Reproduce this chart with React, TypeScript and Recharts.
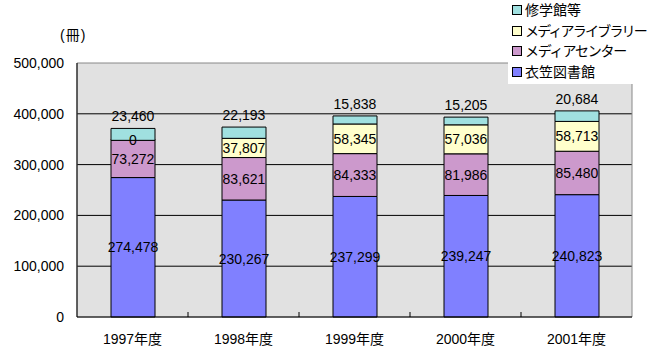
import { Bar, BarChart, CartesianGrid, LabelList, ReferenceArea, XAxis, YAxis } from "recharts";

const years = ["1997年度", "1998年度", "1999年度", "2000年度", "2001年度"];
const kinugasa = [274478, 230267, 237299, 239247, 240823];
const mediaCenter = [73272, 83621, 84333, 81986, 85480];
const mediaLibrary = [0, 37807, 58345, 57036, 58713];
const shugakukan = [23460, 22193, 15838, 15205, 20684];
const yTicks = [0, 100000, 200000, 300000, 400000, 500000];

const series = [
  { key: "kinugasa", name: "衣笠図書館", color: "#8080ff", spacing: 0 },
  { key: "mediaCenter", name: "メディアセンター", color: "#cc99cc", spacing: -1.2 },
  { key: "mediaLibrary", name: "メディアライブラリー", color: "#ffffcc", spacing: -1.8 },
  { key: "shugakukan", name: "修学館等", color: "#a0e0e0", spacing: 0 },
];

const data = years.map((y, i) => ({
  year: y,
  kinugasa: kinugasa[i],
  mediaCenter: mediaCenter[i],
  mediaLibrary: mediaLibrary[i],
  shugakukan: shugakukan[i],
}));

const font = "'Liberation Sans', 'Noto Sans CJK JP', sans-serif";
const W = 647;
const H = 352;
const plotLeft = 77;
const plotRight = 15;
const halfBand = (W - plotLeft - plotRight) / years.length / 2;

const fmt = (v: any) => Number(v).toLocaleString("en-US");

function XTick(props: any) {
  const { x, y, payload, index } = props;
  return (
    <g>
      {index > 0 && <line x1={x - halfBand} x2={x - halfBand} y1={y} y2={y - 5} stroke="#000" />}
      <text
        x={x}
        y={y + 22}
        textAnchor="middle"
        dominantBaseline="central"
        fontSize={14}
        fontFamily={font}
        fill="#000"
      >
        {payload.value}
      </text>
    </g>
  );
}

function SegLabel(props: any) {
  const { x, y, width, height, value, top } = props;
  if (value == null) return null;
  const cx = Number(x) + Number(width) / 2;
  const cy = top ? Number(y) - 12 : Number(y) + Number(height) / 2;
  return (
    <text
      x={cx}
      y={cy}
      textAnchor="middle"
      dominantBaseline="central"
      fontSize={14}
      fontFamily={font}
      fill="#000"
    >
      {fmt(value)}
    </text>
  );
}

function LegendBox() {
  const items = [...series].reverse();
  return (
    <div style={{ position: "absolute", left: 508, top: 0, width: 139, height: 84, background: "#fff" }}>
      {items.map((s, i) => (
        <div
          key={s.key}
          style={{
            position: "absolute",
            left: 4,
            top: 1 + i * 20.7,
            display: "flex",
            alignItems: "center",
            fontFamily: font,
            fontSize: 14,
            lineHeight: "18px",
            whiteSpace: "nowrap",
            color: "#000",
          }}
        >
          <span
            style={{
              display: "inline-block",
              width: 8,
              height: 8,
              background: s.color,
              border: "1px solid #000",
              marginRight: 3,
            }}
          />
          <span style={{ letterSpacing: s.spacing }}>{s.name}</span>
        </div>
      ))}
    </div>
  );
}

export default function App() {
  return (
    <div style={{ position: "absolute", left: 0, top: 0, width: W, height: H, background: "#fff" }}>
      <div
        style={{
          position: "absolute",
          left: 60,
          top: 24,
          fontFamily: font,
          fontSize: 14,
          letterSpacing: 1,
          color: "#000",
        }}
      >
        (冊)
      </div>
      <BarChart
        width={W}
        height={H}
        data={data}
        margin={{ top: 63, right: plotRight, left: 0, bottom: 0 }}
        barSize={44}
      >
        <CartesianGrid
          vertical={false}
          horizontalValues={[100000, 200000, 300000, 400000]}
          stroke="#000"
          fill="#e1e1e1"
          fillOpacity={1}
        />
        <ReferenceArea y1={0} y2={500000} fill="none" stroke="#888" strokeWidth={1} />
        <XAxis
          dataKey="year"
          height={35}
          axisLine={{ stroke: "#000" }}
          tickLine={false}
          tickSize={0}
          tickMargin={0}
          tick={<XTick />}
          interval={0}
        />
        <YAxis
          width={plotLeft}
          domain={[0, 500000]}
          ticks={yTicks}
          tickFormatter={fmt}
          axisLine={{ stroke: "#000" }}
          tickLine={false}
          tickSize={0}
          tickMargin={13}
          tick={{ fill: "#000", fontSize: 14, fontFamily: font }}
        />
        {series.map((s) => (
          <Bar
            key={s.key}
            dataKey={s.key}
            name={s.name}
            stackId="a"
            fill={s.color}
            stroke="#000"
            strokeWidth={1}
            minPointSize={s.key === "mediaLibrary" ? 1 : 0}
            isAnimationActive={false}
          >
            <LabelList
              dataKey={s.key}
              content={<SegLabel top={s.key === "shugakukan"} />}
            />
          </Bar>
        ))}
      </BarChart>
      <LegendBox />
    </div>
  );
}
